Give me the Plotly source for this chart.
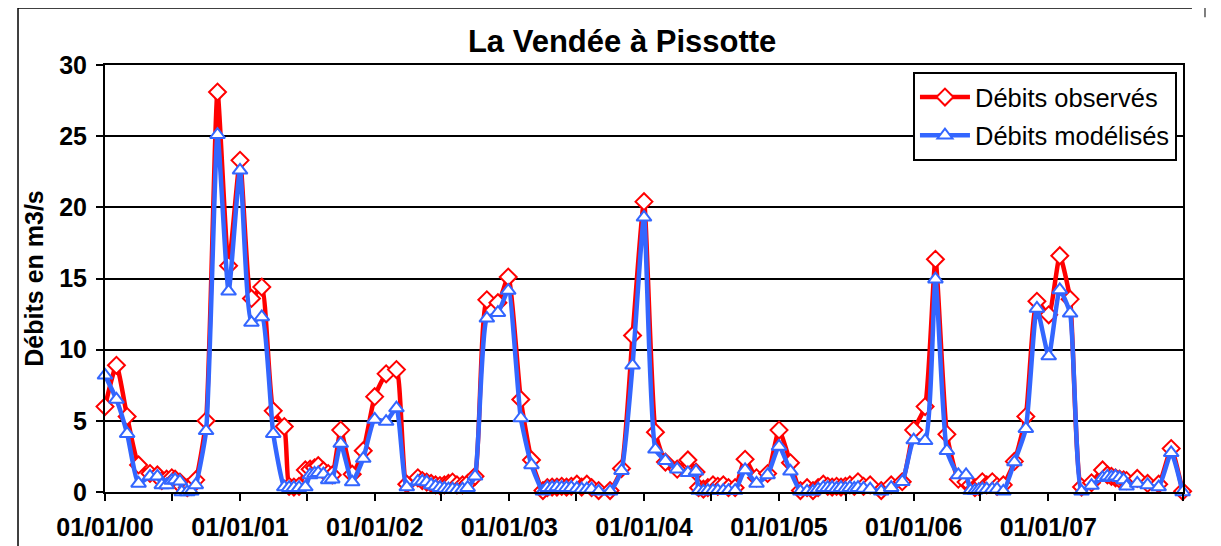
import plotly.graph_objects as go

dates = [
    "2000-01-01", "2000-02-01", "2000-03-01", "2000-04-01", "2000-05-02", "2000-05-22",
    "2000-06-03", "2000-06-16", "2000-06-30", "2000-07-09", "2000-07-22", "2000-07-27",
    "2000-08-11", "2000-08-22", "2000-09-03", "2000-10-01", "2000-11-01", "2000-12-01",
    "2001-01-01", "2001-02-01", "2001-03-01", "2001-04-01", "2001-05-01", "2001-05-14",
    "2001-05-27", "2001-06-10", "2001-06-27", "2001-07-10", "2001-07-22", "2001-08-01",
    "2001-08-15", "2001-08-28", "2001-09-08", "2001-10-01", "2001-11-01", "2001-12-01",
    "2002-01-01", "2002-02-01", "2002-03-01", "2002-03-29", "2002-04-28", "2002-05-10",
    "2002-05-22", "2002-06-03", "2002-06-15", "2002-06-27", "2002-07-09", "2002-07-20",
    "2002-07-31", "2002-08-12", "2002-08-27", "2002-09-10", "2002-09-30", "2002-11-01",
    "2002-12-01", "2002-12-29", "2003-02-01", "2003-03-02", "2003-04-02", "2003-04-14",
    "2003-04-27", "2003-05-10", "2003-05-23", "2003-06-05", "2003-06-18", "2003-07-03",
    "2003-07-16", "2003-07-30", "2003-08-12", "2003-08-31", "2003-10-01", "2003-11-01",
    "2003-12-01", "2004-01-01", "2004-02-01", "2004-02-28", "2004-03-31", "2004-04-29",
    "2004-05-21", "2004-05-28", "2004-06-10", "2004-06-22", "2004-07-06", "2004-07-19",
    "2004-08-03", "2004-08-17", "2004-09-04", "2004-10-01", "2004-11-01", "2004-12-01",
    "2005-01-01", "2005-02-01", "2005-02-28", "2005-03-18", "2005-04-03", "2005-04-17",
    "2005-05-01", "2005-05-13", "2005-05-25", "2005-06-06", "2005-06-18", "2005-06-30",
    "2005-07-12", "2005-07-24", "2005-08-03", "2005-08-18", "2005-09-05", "2005-10-05",
    "2005-11-01", "2005-12-01", "2006-01-01", "2006-02-01", "2006-03-01", "2006-04-01",
    "2006-05-02", "2006-05-23", "2006-06-04", "2006-06-16", "2006-06-26", "2006-07-06",
    "2006-07-18", "2006-08-02", "2006-08-15", "2006-09-01", "2006-10-01", "2006-11-01",
    "2006-12-01", "2007-01-02", "2007-02-01", "2007-03-01", "2007-04-01", "2007-04-28",
    "2007-05-28", "2007-06-10", "2007-06-21", "2007-07-02", "2007-07-13", "2007-07-24",
    "2007-08-01", "2007-08-30", "2007-09-27", "2007-10-27", "2007-11-30", "2007-12-31",
]

debits_observes = [
    6.0, 8.9, 5.3, 1.9, 1.3, 1.2,
    0.8, 0.9, 1.0, 0.9, 0.7, 0.4,
    0.3, 0.4, 0.85, 5.0, 28.1, 15.9,
    23.3, 13.6, 14.4, 5.7, 4.6, 0.4,
    0.35, 0.4, 1.55, 1.6, 1.7, 1.85,
    1.5, 1.3, 1.2, 4.35, 1.25, 2.9,
    6.7, 8.3, 8.6, 0.55, 1.0, 0.8,
    0.7, 0.6, 0.5, 0.45, 0.5, 0.6,
    0.7, 0.5, 0.5, 0.6, 1.1, 13.5,
    13.3, 15.1, 6.5, 2.25, 0.1, 0.3,
    0.35, 0.35, 0.4, 0.35, 0.4, 0.55,
    0.35, 0.55, 0.3, 0.1, 0.1, 1.65,
    11.0, 20.4, 4.2, 2.1, 1.6, 2.25,
    1.4, 0.3, 0.2, 0.3, 0.5, 0.4,
    0.5, 0.3, 0.3, 2.3, 1.0, 1.3,
    4.35, 2.05, 0.1, 0.3, 0.1, 0.3,
    0.55, 0.4, 0.35, 0.4, 0.35, 0.4,
    0.5, 0.4, 0.72, 0.4, 0.5, 0.1,
    0.5, 0.72, 4.35, 6.0, 16.35, 4.05,
    0.9, 0.7, 0.5, 0.3, 0.4, 0.72,
    0.5, 0.72, 0.4, 0.5, 2.15, 5.3,
    13.4, 12.45, 16.6, 13.55, 0.35, 0.65,
    1.55, 1.2, 1.1, 1.0, 0.9, 0.85,
    0.8, 0.95, 0.6, 0.55, 3.05, 0.05,
]

debits_modelises = [
    8.2, 6.5, 4.1, 0.6, 1.1, 1.1,
    0.5, 0.5, 0.8, 0.85, 0.75, 0.0,
    0.0, 0.05, 0.5, 4.3, 25.1, 14.1,
    22.6, 11.9, 12.3, 4.1, 0.35, 0.3,
    0.3, 0.3, 0.35, 1.2, 1.3, 1.35,
    1.25, 0.85, 0.9, 3.4, 0.7, 2.35,
    5.1, 4.95, 5.9, 0.35, 0.75, 0.75,
    0.7, 0.5, 0.4, 0.3, 0.25, 0.2,
    0.2, 0.15, 0.2, 0.3, 1.1, 12.2,
    12.6, 14.15, 5.2, 1.9, 0.05, 0.3,
    0.3, 0.35, 0.3, 0.3, 0.3, 0.25,
    0.2, 0.2, 0.2, 0.05, 0.05, 1.5,
    8.9, 19.3, 3.0, 2.2, 1.6, 1.35,
    1.45, 0.1, 0.05, 0.1, 0.1, 0.1,
    0.1, 0.1, 0.1, 1.55, 0.6, 1.2,
    3.2, 1.45, 0.05, 0.05, 0.05, 0.2,
    0.3, 0.3, 0.3, 0.25, 0.3, 0.25,
    0.3, 0.25, 0.3, 0.25, 0.2, 0.05,
    0.3, 0.72, 3.65, 3.6, 14.95, 2.9,
    1.2, 1.2, 0.1, 0.1, 0.15, 0.2,
    0.2, 0.2, 0.2, 0.05, 2.1, 4.45,
    12.9, 9.55, 14.2, 12.55, 0.05, 0.45,
    1.0, 1.1, 1.05, 1.1, 1.0, 0.85,
    0.4, 0.6, 0.5, 0.35, 2.75, 0.0,
]

series_names = ["Débits observés", "Débits modélisés"]
title_text = "La Vendée à Pissotte"
y_title = "Débits en m3/s"

FONT = "Liberation Sans, Arial, sans-serif"
RED = "#FF0000"
BLUE = "#3366FF"

fig = go.Figure()
fig.add_trace(go.Scatter(
    x=dates, y=debits_observes, name=series_names[0], mode="lines+markers",
    line=dict(color=RED, width=4.5, shape="spline", smoothing=0.5),
    marker=dict(symbol="diamond", size=13, color="white", line=dict(color=RED, width=2)),
    cliponaxis=False, legendgroup="a",
))
fig.add_trace(go.Scatter(
    x=dates, y=debits_modelises, name=series_names[1], mode="lines+markers",
    line=dict(color=BLUE, width=4.5, shape="spline", smoothing=0.5),
    marker=dict(symbol="triangle-up", size=13, color="white", line=dict(color=BLUE, width=2)),
    cliponaxis=False, legendgroup="b",
))

# the page body adds an 8 px offset, so margins are shifted by 8 px
fig.update_layout(
    width=1221, height=546,
    margin=dict(l=97, r=46, t=57, b=62, autoexpand=False),
    paper_bgcolor="white", plot_bgcolor="white",
    font=dict(family=FONT, color="black"),
    title=dict(text=title_text, x=0.503, xanchor="center", y=0.9396, yanchor="middle",
               font=dict(family=FONT, size=31, weight="bold", color="black")),
    showlegend=True,
    legend=dict(x=0.7495, y=0.9836, xanchor="left", yanchor="top",
                bgcolor="white", bordercolor="black", borderwidth=2,
                font=dict(family=FONT, size=25.5, color="black"),
                itemwidth=50, traceorder="grouped", tracegroupgap=2),
)

fig.update_xaxes(
    type="date", range=["2000-01-01", "2008-01-01"], automargin=False,
    tickformat="%d/%m/%y", dtick="M12", tick0="2000-01-01",
    ticks="outside", ticklen=7, tickwidth=2, tickcolor="black",
    minor=dict(dtick="M6", ticks="outside", ticklen=7, tickwidth=2, tickcolor="black", showgrid=False),
    showline=True, linecolor="black", linewidth=2, mirror=True,
    showgrid=False, zeroline=False,
    tickfont=dict(family=FONT, size=25, weight="bold", color="black"),
    ticklabelstandoff=5,
)
fig.update_yaxes(
    range=[0, 30], dtick=5, tick0=0, automargin=False,
    ticks="outside", ticklen=7, tickwidth=2, tickcolor="black",
    showline=True, linecolor="black", linewidth=2, mirror=True,
    showgrid=True, gridcolor="black", gridwidth=1.5, zeroline=False,
    tickfont=dict(family=FONT, size=25, weight="bold", color="black"),
    ticklabelstandoff=4,
    title=dict(text=y_title, font=dict(family=FONT, size=25, weight="bold", color="black"), standoff=8),
)

# outer chart-area frame
fig.add_shape(type="line", xref="paper", yref="paper", x0=-0.0807, x1=-0.0807, y0=1.1335, y1=-0.2,
              line=dict(color="black", width=1.5))
fig.add_shape(type="line", xref="paper", yref="paper", x0=-0.0807, x1=1.0083, y0=1.1335, y1=1.1335,
              line=dict(color="black", width=1.5))
fig.add_shape(type="line", xref="paper", yref="paper", x0=1.0204, x1=1.0204, y0=1.16, y1=1.112,
              line=dict(color="#555555", width=1.5))

fig.write_html("out.html")
